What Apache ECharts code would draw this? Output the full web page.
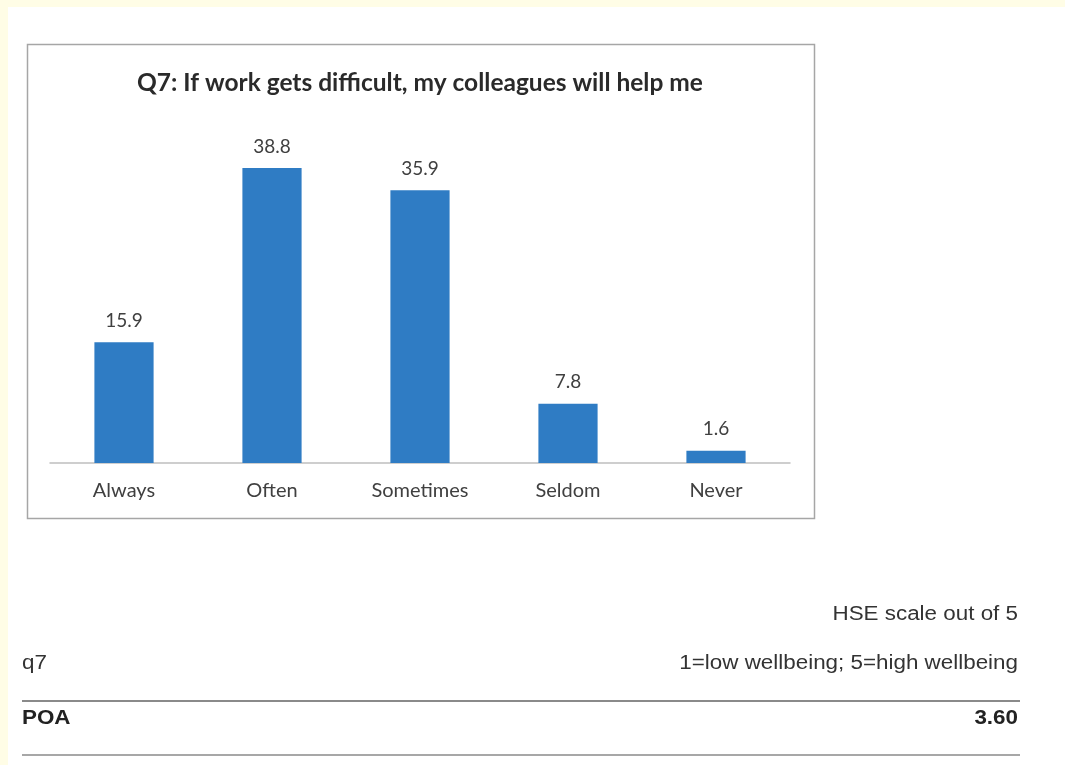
<!DOCTYPE html>
<html>
<head>
<meta charset="utf-8">
<script src="https://cdn.jsdelivr.net/npm/echarts@6/dist/echarts.min.js"></script>
<style>
  html, body { margin: 0; padding: 0; background: #fffde6; }
  #chart { width: 1065px; height: 765px; }
</style>
</head>
<body>
<div id="chart"></div>
<script>
const categories = ['Always', 'Often', 'Sometimes', 'Seldom', 'Never']
const percentages = [15.9, 38.8, 35.9, 7.8, 1.6]
const scaleNote = 'HSE scale out of 5'
const scaleLegend = '1=low wellbeing; 5=high wellbeing'
const questionCode = 'q7'
const groupName = 'POA'
const groupScore = '3.60'

const chart = echarts.init(document.getElementById('chart'))

const lineColor = '#8a8a8a'
const rowFont = 'Liberation Sans, Arial, sans-serif'
const rowSize = 20
const stretch = 1.12

// table rows under the chart, drawn as plain text
const rowText = (x, y, text, align, bold) => ({
  type: 'text',
  x,
  y,
  scaleX: stretch,
  style: {
    text,
    align,
    verticalAlign: 'middle',
    fontFamily: rowFont,
    fontWeight: bold ? 'bold' : 'normal',
    fontSize: rowSize,
    fill: bold ? '#222' : '#333'
  }
})

const option = {
  backgroundColor: '#fffde6',
  animation: false,
  title: {
    text: 'Q7: If work gets difficult, my colleagues will help me',
    left: 415,
    top: 66,
    textAlign: 'center',
    textStyle: { fontFamily: 'Lato', fontWeight: 'bold', fontSize: 24.5, color: '#2a2a2a' }
  },
  grid: { left: 50, right: 275, top: 159, bottom: 302 },
  xAxis: {
    type: 'category',
    data: categories,
    axisLine: { lineStyle: { color: '#bfbfbf', width: 1.5 } },
    axisTick: { show: false },
    axisLabel: { color: '#404040', fontFamily: 'Lato', fontSize: 20, margin: 18 }
  },
  yAxis: {
    type: 'value',
    min: 0,
    max: 40,
    show: false
  },
  series: [{
    type: 'bar',
    data: percentages,
    barWidth: '40%',
    itemStyle: { color: '#2f7cc4' },
    label: {
      show: true,
      position: 'top',
      distance: 12,
      color: '#404040',
      fontFamily: 'Lato',
      fontSize: 19
    }
  }],
  graphic: [
    { type: 'rect', z: -10, shape: { x: 8, y: 7, width: 1057, height: 758 }, style: { fill: '#ffffff' } },
    { type: 'rect', z: -5, shape: { x: 27.5, y: 44.5, width: 787, height: 474 }, style: { fill: '#ffffff', stroke: '#a6a6a6', lineWidth: 1.5 } },
    rowText(1018, 614, scaleNote, 'right', false),
    rowText(22, 663, questionCode, 'left', false),
    rowText(1018, 663, scaleLegend, 'right', false),
    { type: 'line', shape: { x1: 22, y1: 701, x2: 1020, y2: 701 }, style: { stroke: lineColor, lineWidth: 2 } },
    rowText(22, 718, groupName, 'left', true),
    rowText(1018, 718, groupScore, 'right', true),
    { type: 'line', shape: { x1: 22, y1: 755, x2: 1020, y2: 755 }, style: { stroke: lineColor, lineWidth: 1.5 } }
  ]
}

chart.setOption(option)
</script>
</body>
</html>
